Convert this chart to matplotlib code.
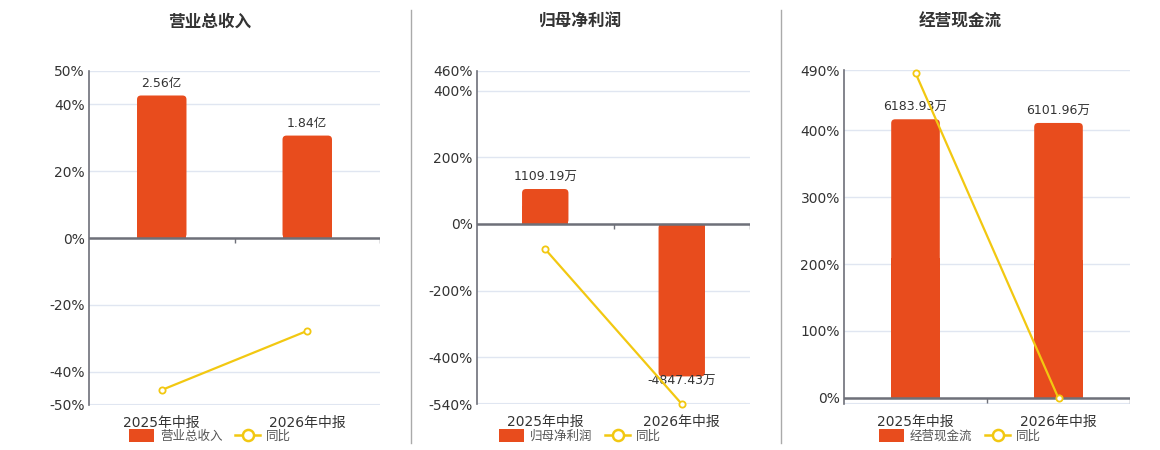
import matplotlib
matplotlib.use("Agg")
import matplotlib.pyplot as plt
from matplotlib.patches import FancyBboxPatch, Rectangle, Patch
from matplotlib.lines import Line2D

plt.rcParams['font.family'] = ['DejaVu Sans', 'Noto Sans CJK SC']

categories = ['2025年中报', '2026年中报']
titles = ['营业总收入', '归母净利润', '经营现金流']

revenue = [2.56, 1.84]              # 亿
profit = [1109.19, -4847.43]        # 万
cashflow = [6183.93, 6101.96]       # 万
revenue_labels = ['2.56亿', '1.84亿']
profit_labels = ['1109.19万', '-4847.43万']
cashflow_labels = ['6183.93万', '6101.96万']

revenue_yoy = [-45.5, -27.8]
profit_yoy = [-76.0, -540.0]
cashflow_yoy = [486.0, -1.0]

revenue_ticks = [-50, -40, -20, 0, 20, 40, 50]
profit_ticks = [-540, -400, -200, 0, 200, 400, 460]
cashflow_ticks = [0, 100, 200, 300, 400, 490]

BAR = '#E84C1D'
LINE = '#F2C811'
AXIS = '#6E7079'
GRID = '#E0E6F1'
TEXT = '#333333'

fig = plt.figure(figsize=(11.6, 4.5), dpi=100)

panels = [
    # values, labels, yoy, ticks, pct limits, bar units per %, axes rect, centre x
    (revenue, revenue_labels, revenue_yoy, revenue_ticks, (-50, 50), 0.06,
     [89 / 1160, 45 / 450, 291 / 1160, 334 / 450], 210),
    (profit, profit_labels, profit_yoy, profit_ticks, (-540, 460), 10.6,
     [477 / 1160, 46 / 450, 273 / 1160, 333.5 / 450], 580),
    (cashflow, cashflow_labels, cashflow_yoy, cashflow_ticks, (-9.5, 490), 14.84,
     [844 / 1160, 46 / 450, 286 / 1160, 333.7 / 450], 960),
]


def round_bars(ax, bars, r_px=4):
    bb = ax.get_window_extent()
    x0, x1 = ax.get_xlim()
    y0, y1 = ax.get_ylim()
    rx = r_px * (x1 - x0) / bb.width
    ry = r_px * (y1 - y0) / bb.height
    for rect in bars:
        x, y = rect.get_xy()
        w, h = rect.get_width(), rect.get_height()
        rect.set_visible(False)
        lo, hh = min(y, y + h), abs(h)
        ax.add_patch(FancyBboxPatch((x, lo), w, hh,
                                    boxstyle=f'round,pad=0,rounding_size={rx}',
                                    mutation_aspect=ry / rx, fc=BAR, ec='none', zorder=2))
        base = lo if h > 0 else lo + hh / 2
        ax.add_patch(Rectangle((x, base), w, hh / 2, fc=BAR, ec='none', zorder=2))


for (vals, labels, yoy, ticks, plim, k, rect, cx), title in zip(panels, titles):
    ax = fig.add_axes(rect)
    x = list(range(len(categories)))
    ax.set_xlim(-0.5, len(categories) - 0.5)
    ax.set_ylim(plim[0] * k, plim[1] * k)

    bars = ax.bar(x, vals, width=0.34, color=BAR, zorder=2)

    ax.set_yticks([t * k for t in ticks])
    ax.set_yticklabels([f'{t}%' for t in ticks])
    ax.grid(axis='y', color=GRID, lw=1)
    ax.axhline(plim[0] * k, color=GRID, lw=1.5, zorder=0.5)
    ax.set_axisbelow(True)
    ax.set_xticks(x)
    ax.set_xticklabels(categories)
    ax.tick_params(axis='both', length=0, labelsize=10, labelcolor=TEXT)
    ax.tick_params(axis='x', pad=8)
    ax.tick_params(axis='y', pad=3)
    for s in ['top', 'right', 'bottom']:
        ax.spines[s].set_visible(False)
    ax.spines['left'].set_color(AXIS)
    ax.spines['left'].set_linewidth(1.2)

    ax.axhline(0, color=AXIS, lw=1.8, zorder=3)
    tick_len = 5 * (plim[1] - plim[0]) * k / (rect[3] * 450)
    ax.vlines([i + 0.5 for i in x], -tick_len, 0, color=AXIS, lw=1, zorder=3)

    round_bars(ax, bars)

    for xi, v, lab in zip(x, vals, labels):
        if v >= 0:
            ax.annotate(lab, (xi, v), xytext=(0, 4), textcoords='offset points',
                        ha='center', va='bottom', fontsize=9, color=TEXT, zorder=4)
        else:
            ax.annotate(lab, (xi, v), xytext=(0, 1), textcoords='offset points',
                        ha='center', va='top', fontsize=9, color=TEXT, zorder=4)

    ax2 = ax.twinx()
    ax2.set_ylim(*plim)
    ax2.plot(x, yoy, color=LINE, lw=1.6, marker='o', ms=4.5, mfc='white',
             mec=LINE, mew=1.3, zorder=5, clip_on=False)
    ax2.set_yticks([])
    for s in ax2.spines.values():
        s.set_visible(False)

    fig.text(cx / 1160, 1 - 22 / 450, title, ha='center', va='center',
             fontsize=12, fontweight='bold', color=TEXT)

    handles = [Patch(fc=BAR, ec='none'),
               Line2D([0], [0], color=LINE, lw=1.8, marker='o', ms=8,
                      mfc='white', mec=LINE, mew=1.8)]
    fig.legend(handles, [title, '同比'], loc='center', ncol=2,
               bbox_to_anchor=(cx / 1160, 14 / 450), frameon=False,
               fontsize=9, handlelength=2.0, handleheight=1.2,
               handletextpad=0.5, columnspacing=1.0, labelcolor='#555555')

for xd in [410.5, 780.5]:
    fig.add_artist(Line2D([xd / 1160, xd / 1160], [1 - 10 / 450, 1 - 443 / 450],
                          color='#AAAAAA', lw=1))

fig.savefig('out.png', dpi=100)
